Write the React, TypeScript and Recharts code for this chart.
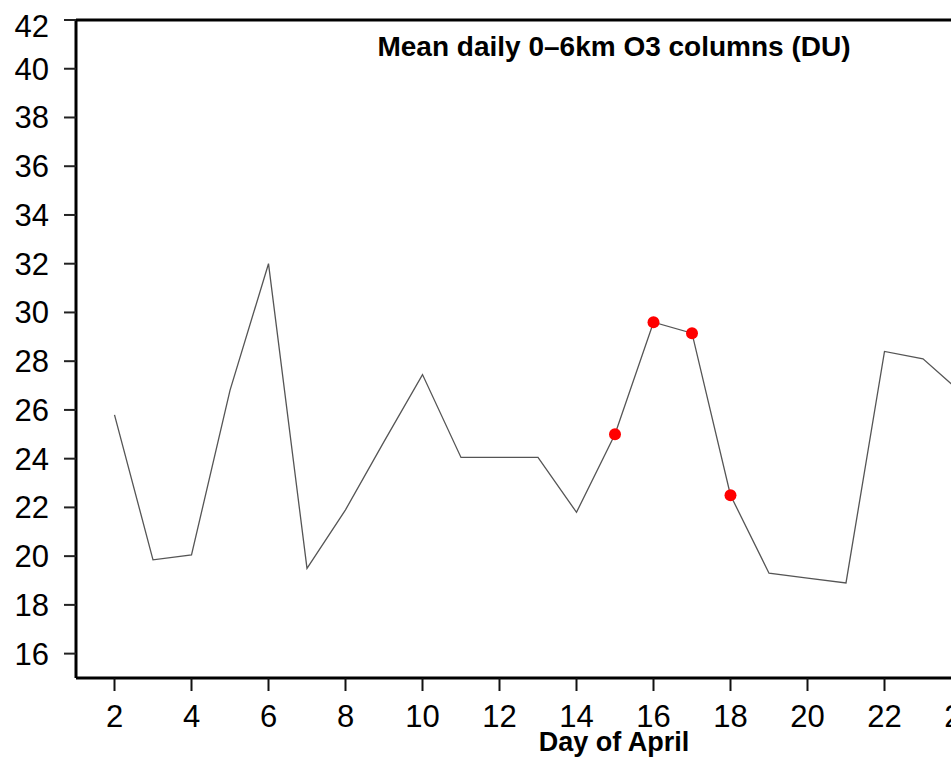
import { LineChart, Line, XAxis, YAxis } from "recharts";

// day of April and mean daily 0-6km O3 column (DU)
const days = [2, 3, 4, 5, 6, 7, 8, 9, 10, 11, 12, 13, 14, 15, 16, 17, 18, 19, 20, 21, 22, 23, 24];
const o3 = [
  25.8, 19.85, 20.05, 26.8, 32.0, 19.5, 21.9, 24.7, 27.45, 24.05, 24.05, 24.05,
  21.8, 25.0, 29.6, 29.15, 22.5, 19.3, 19.1, 18.9, 28.4, 28.1, 26.7,
];
// days marked with red dots
const highlightDays = [15, 16, 17, 18];

const xTicks = [2, 4, 6, 8, 10, 12, 14, 16, 18, 20, 22, 24];
const yTicks = [16, 18, 20, 22, 24, 26, 28, 30, 32, 34, 36, 38, 40, 42];

const title = "Mean daily 0–6km O3 columns (DU)";
const xLabel = "Day of April";

const data = days.map((d, i) => ({
  day: d,
  o3: o3[i],
  hi: highlightDays.includes(d) ? o3[i] : null,
}));

const font = "'Liberation Sans', Arial, Helvetica, sans-serif";
const tickStyle = { fontSize: 31, fill: "#000", fontFamily: font };

export default function App() {
  return (
    <div
      style={{
        position: "relative",
        width: 951,
        height: 758,
        overflow: "hidden",
        fontFamily: font,
        background: "#fff",
      }}
    >
      <style>{"body{margin:0}"}</style>
      <div style={{ position: "absolute", left: 8, top: 8 }}>
        <LineChart
          width={1012}
          height={750}
          data={data}
          margin={{ top: 0, right: 20, bottom: 0, left: 0 }}
        >
          <XAxis
            xAxisId="top"
            orientation="top"
            dataKey="day"
            type="number"
            domain={[1, 25]}
            ticks={xTicks}
            height={12}
            tick={false}
            tickSize={12}
            tickLine={{ stroke: "#111", strokeWidth: 2 }}
            axisLine={{ stroke: "#000", strokeWidth: 3 }}
          />
          <XAxis
            dataKey="day"
            type="number"
            domain={[1, 25]}
            ticks={xTicks}
            height={80}
            tickSize={13}
            tickMargin={14}
            tick={tickStyle}
            tickLine={{ stroke: "#111", strokeWidth: 2 }}
            axisLine={{ stroke: "#000", strokeWidth: 3 }}
          />
          <YAxis
            type="number"
            domain={[15, 42]}
            ticks={yTicks}
            width={68}
            tickSize={12}
            tickMargin={15}
            tick={tickStyle}
            tickLine={{ stroke: "#222", strokeWidth: 2 }}
            axisLine={{ stroke: "#000", strokeWidth: 3 }}
          />
          <Line
            dataKey="o3"
            stroke="#555"
            strokeWidth={1.3}
            dot={false}
            isAnimationActive={false}
          />
          <Line
            dataKey="hi"
            stroke="none"
            dot={{ r: 6, fill: "#ff0000", stroke: "none" }}
            activeDot={false}
            isAnimationActive={false}
          />
        </LineChart>
      </div>
      <div
        style={{
          position: "absolute",
          left: 614,
          top: 33,
          transform: "translateX(-50%)",
          fontSize: 28,
          lineHeight: "28px",
          fontWeight: "bold",
          whiteSpace: "nowrap",
          color: "#000",
        }}
      >
        {title}
      </div>
      <div
        style={{
          position: "absolute",
          left: 614,
          top: 729,
          transform: "translateX(-50%)",
          fontSize: 27,
          lineHeight: "27px",
          fontWeight: "bold",
          whiteSpace: "nowrap",
          color: "#000",
        }}
      >
        {xLabel}
      </div>
    </div>
  );
}
